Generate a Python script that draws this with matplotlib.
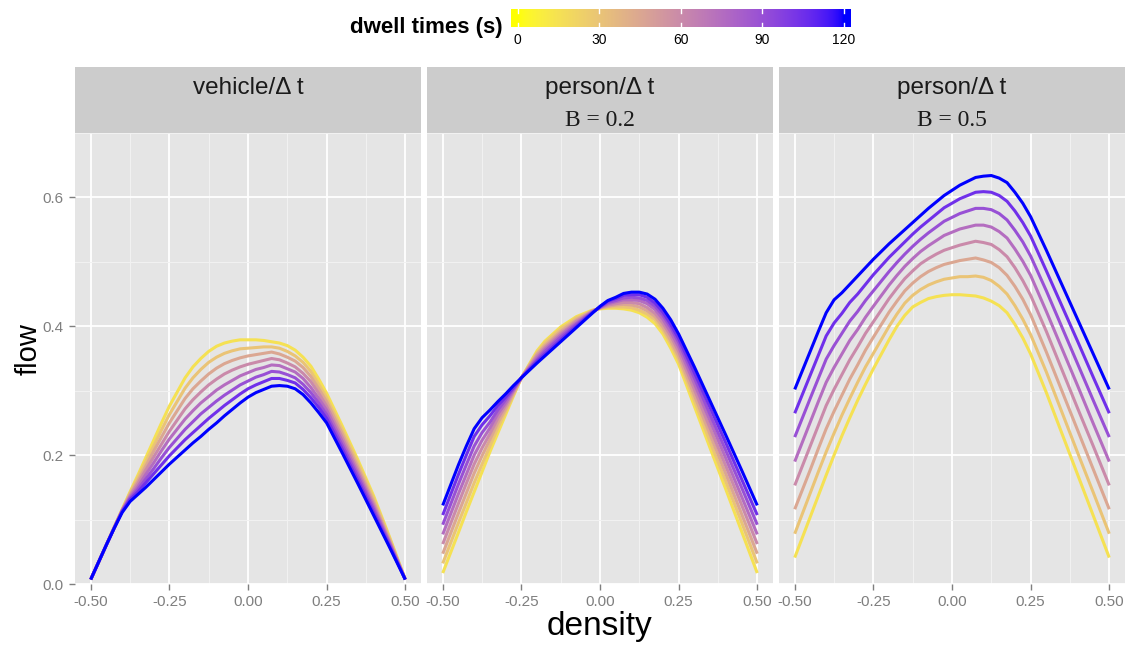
import numpy as np
import matplotlib.pyplot as plt

plt.rcParams['font.family'] = ['Liberation Sans', 'DejaVu Sans']

# density values (x) shared by every curve
density = [-0.500, -0.450, -0.425, -0.400, -0.375, -0.350, -0.325, -0.300, -0.275, -0.250,
           -0.200, -0.175, -0.150, -0.125, -0.100, -0.075, -0.050, -0.025, 0.000,
           0.025, 0.050, 0.075, 0.100, 0.125, 0.150, 0.175, 0.200, 0.225, 0.250,
           0.300, 0.350, 0.400, 0.450, 0.500]
dwell_times = [15, 30, 45, 60, 75, 90, 105, 120]

# flow, one row per density value, one column per dwell time
flow_vehicle = [
    [0.007, 0.007, 0.007, 0.007, 0.007, 0.007, 0.007, 0.007],
    [0.061, 0.061, 0.061, 0.061, 0.061, 0.061, 0.061, 0.061],
    [0.089, 0.088, 0.088, 0.088, 0.088, 0.087, 0.087, 0.087],
    [0.116, 0.115, 0.115, 0.114, 0.114, 0.113, 0.113, 0.111],
    [0.143, 0.141, 0.139, 0.137, 0.135, 0.133, 0.131, 0.128],
    [0.169, 0.165, 0.160, 0.156, 0.151, 0.147, 0.143, 0.139],
    [0.196, 0.190, 0.183, 0.177, 0.170, 0.163, 0.157, 0.150],
    [0.223, 0.214, 0.206, 0.197, 0.188, 0.179, 0.171, 0.162],
    [0.250, 0.239, 0.228, 0.217, 0.207, 0.196, 0.185, 0.174],
    [0.276, 0.263, 0.250, 0.237, 0.225, 0.212, 0.199, 0.186],
    [0.320, 0.304, 0.288, 0.272, 0.256, 0.240, 0.224, 0.208],
    [0.337, 0.320, 0.303, 0.286, 0.269, 0.252, 0.235, 0.219],
    [0.350, 0.333, 0.315, 0.298, 0.281, 0.264, 0.246, 0.229],
    [0.361, 0.344, 0.326, 0.309, 0.291, 0.274, 0.257, 0.240],
    [0.369, 0.352, 0.335, 0.318, 0.301, 0.284, 0.267, 0.250],
    [0.374, 0.358, 0.342, 0.326, 0.309, 0.293, 0.277, 0.261],
    [0.377, 0.362, 0.347, 0.332, 0.316, 0.301, 0.286, 0.271],
    [0.379, 0.365, 0.351, 0.337, 0.323, 0.309, 0.295, 0.281],
    [0.379, 0.366, 0.354, 0.341, 0.328, 0.315, 0.303, 0.290],
    [0.379, 0.367, 0.356, 0.344, 0.333, 0.321, 0.309, 0.297],
    [0.378, 0.368, 0.358, 0.347, 0.336, 0.325, 0.314, 0.302],
    [0.376, 0.368, 0.360, 0.350, 0.340, 0.330, 0.319, 0.307],
    [0.374, 0.366, 0.357, 0.348, 0.339, 0.329, 0.319, 0.308],
    [0.370, 0.361, 0.352, 0.343, 0.334, 0.325, 0.316, 0.307],
    [0.363, 0.354, 0.346, 0.337, 0.329, 0.320, 0.312, 0.303],
    [0.352, 0.344, 0.336, 0.327, 0.319, 0.310, 0.302, 0.294],
    [0.338, 0.330, 0.322, 0.314, 0.305, 0.297, 0.289, 0.281],
    [0.318, 0.310, 0.303, 0.296, 0.288, 0.281, 0.274, 0.266],
    [0.296, 0.289, 0.283, 0.276, 0.270, 0.263, 0.257, 0.250],
    [0.245, 0.239, 0.233, 0.227, 0.221, 0.215, 0.209, 0.203],
    [0.192, 0.187, 0.181, 0.176, 0.171, 0.166, 0.160, 0.155],
    [0.136, 0.132, 0.127, 0.123, 0.119, 0.115, 0.110, 0.106],
    [0.073, 0.071, 0.068, 0.066, 0.064, 0.062, 0.059, 0.057],
    [0.007, 0.007, 0.007, 0.007, 0.007, 0.007, 0.007, 0.007],
]

flow_person_02 = [
    [0.017, 0.032, 0.047, 0.062, 0.077, 0.092, 0.107, 0.122],
    [0.080, 0.095, 0.110, 0.125, 0.140, 0.155, 0.170, 0.185],
    [0.112, 0.126, 0.141, 0.156, 0.170, 0.185, 0.200, 0.214],
    [0.143, 0.157, 0.172, 0.186, 0.200, 0.214, 0.229, 0.241],
    [0.174, 0.186, 0.199, 0.211, 0.223, 0.235, 0.247, 0.258],
    [0.205, 0.214, 0.224, 0.233, 0.242, 0.251, 0.261, 0.270],
    [0.234, 0.242, 0.250, 0.257, 0.264, 0.270, 0.277, 0.283],
    [0.263, 0.268, 0.272, 0.277, 0.281, 0.286, 0.290, 0.295],
    [0.292, 0.294, 0.296, 0.299, 0.301, 0.303, 0.305, 0.308],
    [0.320, 0.320, 0.320, 0.320, 0.320, 0.320, 0.320, 0.320],
    [0.362, 0.359, 0.357, 0.354, 0.351, 0.348, 0.346, 0.343],
    [0.377, 0.374, 0.370, 0.367, 0.364, 0.361, 0.357, 0.354],
    [0.388, 0.385, 0.381, 0.378, 0.375, 0.372, 0.368, 0.365],
    [0.399, 0.396, 0.392, 0.389, 0.386, 0.383, 0.379, 0.376],
    [0.407, 0.404, 0.401, 0.398, 0.396, 0.393, 0.390, 0.387],
    [0.415, 0.413, 0.410, 0.408, 0.405, 0.403, 0.400, 0.398],
    [0.420, 0.418, 0.417, 0.415, 0.414, 0.412, 0.411, 0.409],
    [0.425, 0.424, 0.424, 0.423, 0.422, 0.421, 0.421, 0.420],
    [0.427, 0.428, 0.428, 0.429, 0.429, 0.430, 0.430, 0.431],
    [0.428, 0.430, 0.431, 0.433, 0.435, 0.437, 0.439, 0.440],
    [0.428, 0.430, 0.433, 0.435, 0.438, 0.440, 0.443, 0.445],
    [0.427, 0.430, 0.434, 0.437, 0.441, 0.444, 0.448, 0.451],
    [0.425, 0.429, 0.433, 0.437, 0.441, 0.445, 0.449, 0.453],
    [0.421, 0.425, 0.430, 0.435, 0.440, 0.444, 0.449, 0.453],
    [0.414, 0.419, 0.424, 0.429, 0.435, 0.440, 0.445, 0.450],
    [0.404, 0.410, 0.415, 0.420, 0.426, 0.431, 0.436, 0.442],
    [0.388, 0.394, 0.399, 0.405, 0.411, 0.417, 0.422, 0.428],
    [0.366, 0.373, 0.378, 0.385, 0.391, 0.398, 0.403, 0.410],
    [0.341, 0.348, 0.354, 0.361, 0.368, 0.375, 0.381, 0.388],
    [0.276, 0.285, 0.293, 0.302, 0.311, 0.320, 0.328, 0.337],
    [0.211, 0.221, 0.232, 0.242, 0.253, 0.263, 0.274, 0.284],
    [0.147, 0.159, 0.171, 0.183, 0.195, 0.207, 0.219, 0.231],
    [0.082, 0.096, 0.109, 0.123, 0.136, 0.150, 0.163, 0.177],
    [0.017, 0.032, 0.047, 0.062, 0.077, 0.092, 0.107, 0.122],
]

flow_person_05 = [
    [0.041, 0.078, 0.116, 0.153, 0.190, 0.228, 0.265, 0.302],
    [0.105, 0.142, 0.178, 0.215, 0.252, 0.289, 0.325, 0.362],
    [0.137, 0.174, 0.210, 0.246, 0.283, 0.319, 0.355, 0.392],
    [0.169, 0.205, 0.241, 0.277, 0.313, 0.349, 0.385, 0.421],
    [0.200, 0.234, 0.268, 0.302, 0.336, 0.370, 0.405, 0.441],
    [0.230, 0.262, 0.293, 0.325, 0.357, 0.389, 0.420, 0.452],
    [0.258, 0.288, 0.318, 0.348, 0.378, 0.408, 0.437, 0.465],
    [0.285, 0.313, 0.340, 0.368, 0.395, 0.423, 0.450, 0.478],
    [0.310, 0.337, 0.363, 0.389, 0.414, 0.440, 0.465, 0.491],
    [0.334, 0.358, 0.383, 0.407, 0.431, 0.455, 0.480, 0.504],
    [0.379, 0.400, 0.422, 0.443, 0.464, 0.485, 0.507, 0.528],
    [0.400, 0.419, 0.439, 0.459, 0.479, 0.499, 0.519, 0.539],
    [0.417, 0.436, 0.455, 0.474, 0.493, 0.512, 0.531, 0.550],
    [0.430, 0.448, 0.467, 0.486, 0.505, 0.524, 0.543, 0.561],
    [0.437, 0.457, 0.477, 0.497, 0.516, 0.535, 0.554, 0.572],
    [0.443, 0.464, 0.485, 0.505, 0.525, 0.545, 0.564, 0.583],
    [0.446, 0.469, 0.491, 0.512, 0.533, 0.554, 0.574, 0.593],
    [0.448, 0.473, 0.496, 0.518, 0.541, 0.563, 0.584, 0.603],
    [0.449, 0.475, 0.499, 0.522, 0.546, 0.569, 0.591, 0.611],
    [0.449, 0.477, 0.502, 0.526, 0.551, 0.575, 0.598, 0.619],
    [0.448, 0.477, 0.504, 0.529, 0.554, 0.579, 0.603, 0.625],
    [0.447, 0.478, 0.506, 0.532, 0.557, 0.583, 0.608, 0.631],
    [0.444, 0.476, 0.503, 0.530, 0.557, 0.583, 0.609, 0.633],
    [0.439, 0.471, 0.499, 0.527, 0.554, 0.581, 0.608, 0.634],
    [0.432, 0.462, 0.491, 0.519, 0.547, 0.575, 0.603, 0.630],
    [0.421, 0.450, 0.479, 0.508, 0.537, 0.565, 0.594, 0.623],
    [0.403, 0.432, 0.462, 0.491, 0.520, 0.549, 0.579, 0.608],
    [0.382, 0.411, 0.442, 0.471, 0.501, 0.531, 0.561, 0.591],
    [0.357, 0.387, 0.418, 0.448, 0.479, 0.509, 0.540, 0.570],
    [0.297, 0.329, 0.360, 0.392, 0.423, 0.455, 0.486, 0.518],
    [0.233, 0.266, 0.299, 0.332, 0.365, 0.398, 0.431, 0.464],
    [0.169, 0.203, 0.238, 0.272, 0.307, 0.341, 0.376, 0.410],
    [0.105, 0.141, 0.177, 0.213, 0.248, 0.284, 0.320, 0.356],
    [0.041, 0.078, 0.116, 0.153, 0.190, 0.228, 0.265, 0.302],
]

panels = [flow_vehicle, flow_person_02, flow_person_05]
strip_line1 = ['vehicle/\u0394 t', 'person/\u0394 t', 'person/\u0394 t']
strip_line2 = ['', 'B = 0.2', 'B = 0.5']


# yellow -> blue gradient interpolated in Lab space (like ggplot's scale_colour_gradient)
def to_lab(rgb):
    c = np.asarray(rgb, float)
    c = np.where(c <= 0.04045, c / 12.92, ((c + 0.055) / 1.055) ** 2.4)
    m = np.array([[0.4124, 0.3576, 0.1805], [0.2126, 0.7152, 0.0722], [0.0193, 0.1192, 0.9505]])
    xyz = m @ c / np.array([0.95047, 1.0, 1.08883])
    f = np.where(xyz > 0.008856, np.cbrt(xyz), 7.787 * xyz + 16 / 116)
    return np.array([116 * f[1] - 16, 500 * (f[0] - f[1]), 200 * (f[1] - f[2])])


def from_lab(lab):
    fy = (lab[0] + 16) / 116
    f = np.array([fy + lab[1] / 500, fy, fy - lab[2] / 200])
    xyz = np.where(f ** 3 > 0.008856, f ** 3, (f - 16 / 116) / 7.787) * np.array([0.95047, 1.0, 1.08883])
    mi = np.array([[3.2406, -1.5372, -0.4986], [-0.9689, 1.8758, 0.0415], [0.0557, -0.2040, 1.0570]])
    c = mi @ xyz
    c = np.where(c <= 0.0031308, 12.92 * c, 1.055 * np.abs(c) ** (1 / 2.4) - 0.055)
    return np.clip(c, 0, 1)


lab_lo = to_lab([1, 1, 0])
lab_hi = to_lab([0, 0, 1])


def dwell_colour(v):
    t = min(max(v / 120.0, 0), 1)
    return from_lab(lab_lo + t * (lab_hi - lab_lo))


W, H = 1135, 647
fig = plt.figure(figsize=(W / 100, H / 100), dpi=100)

panel_left = [75, 427, 779]
panel_w = 346
top, bottom = 133, 584
strip_top = 67

for i, data in enumerate(panels):
    ax = fig.add_axes([panel_left[i] / W, 1 - bottom / H, panel_w / W, (bottom - top) / H])
    ax.set_facecolor('#E5E5E5')
    for s in ax.spines.values():
        s.set_visible(False)
    ax.set_xlim(-0.55, 0.55)
    ax.set_ylim(0, 0.7)
    ax.set_xticks([-0.5, -0.25, 0, 0.25, 0.5])
    ax.set_xticklabels(['-0.50', '-0.25', '0.00', '0.25', '0.50'])
    ax.set_xticks([-0.375, -0.125, 0.125, 0.375], minor=True)
    ax.set_yticks([0, 0.2, 0.4, 0.6])
    ax.set_yticks([0.1, 0.3, 0.5, 0.7], minor=True)
    ax.grid(which='major', color='white', lw=1.3)
    ax.grid(which='minor', color='#F2F2F2', lw=0.7)
    ax.set_axisbelow(True)
    ax.tick_params(which='major', length=4, width=1, color='#7F7F7F', labelcolor='#7F7F7F',
                   labelsize=11, pad=4)
    ax.tick_params(which='minor', length=0)
    if i == 0:
        ax.set_yticklabels(['0.0', '0.2', '0.4', '0.6'])
    else:
        ax.tick_params(axis='y', which='major', length=0, labelleft=False)

    arr = np.array(data)
    for k, dt in enumerate(dwell_times):
        ax.plot(density, arr[:, k], color=dwell_colour(dt), lw=2.2, solid_capstyle='butt',
                solid_joinstyle='round')

    # facet strip
    sax = fig.add_axes([panel_left[i] / W, 1 - top / H, panel_w / W, (top - strip_top) / H])
    sax.set_facecolor('#CCCCCC')
    sax.set_xticks([])
    sax.set_yticks([])
    for s in sax.spines.values():
        s.set_visible(False)
    sax.text(0.5, 1 - 21 / 66, strip_line1[i], ha='center', va='center', fontsize=17.5,
             color='#1A1A1A', transform=sax.transAxes)
    if strip_line2[i]:
        sax.text(0.5, 1 - 53 / 66, strip_line2[i], ha='center', va='center', fontsize=17,
                 family=['Liberation Serif', 'DejaVu Serif'], color='#1A1A1A',
                 transform=sax.transAxes)

fig.text(600 / W, 1 - 627 / H, 'density', ha='center', va='center', fontsize=24)
fig.text(29 / W, 1 - 349 / H, 'flow', ha='center', va='center', fontsize=21, rotation=90)

# colour bar legend
cax = fig.add_axes([511 / W, 1 - 27 / H, 340 / W, 18 / H])
lo, hi = -2.4, 122.6
vals = np.linspace(lo, hi, 300)
grad = np.array([dwell_colour(v) for v in vals])[None, :, :]
cax.imshow(grad, extent=(lo, hi, 0, 1), aspect='auto')
cax.set_xlim(lo, hi)
cax.set_ylim(0, 1)
cax.axis('off')
for v in [0, 30, 60, 90, 120]:
    cax.plot([v, v], [0, 0.2], color='white', lw=1)
    cax.plot([v, v], [0.8, 1], color='white', lw=1)
    fig.text((517.5 + v * 2.717) / W, 1 - 40 / H, str(v), ha='center', va='center', fontsize=10)
fig.text(503 / W, 1 - 28 / H, 'dwell times (s)', ha='right', va='center', fontsize=16,
         fontweight='bold')

fig.savefig('out.png', dpi=100)
